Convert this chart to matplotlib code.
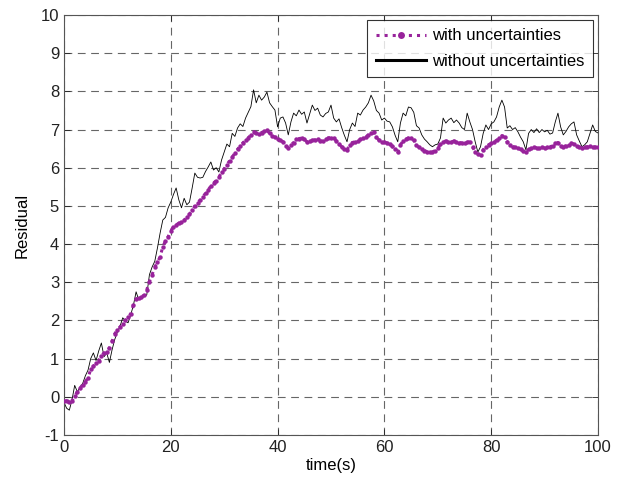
import matplotlib
matplotlib.use('Agg')
import matplotlib.pyplot as plt
import numpy as np

plt.rcParams['font.family'] = ['Liberation Sans', 'DejaVu Sans']
plt.rcParams['axes.unicode_minus'] = False

# time axis, 0.5 s steps
time_s = np.arange(0, 100.5, 0.5)

# residual with uncertainties (purple)
res_with = [
    -0.12, -0.10, -0.14, -0.10, 0.02, 0.13, 0.22, 0.32, 0.40, 0.50,
    0.72, 0.80, 0.88, 0.95, 1.08, 1.15, 1.18, 1.28, 1.45, 1.65,
    1.75, 1.83, 1.92, 2.00, 2.08, 2.18, 2.40, 2.56, 2.60, 2.62,
    2.66, 2.80, 3.02, 3.20, 3.40, 3.52, 3.67, 3.93, 4.08, 4.19,
    4.35, 4.45, 4.50, 4.55, 4.57, 4.62, 4.70, 4.78, 4.88, 5.00,
    5.08, 5.15, 5.24, 5.33, 5.42, 5.52, 5.60, 5.66, 5.75, 5.88,
    5.97, 6.08, 6.18, 6.28, 6.38, 6.48, 6.57, 6.65, 6.72, 6.78,
    6.86, 6.94, 6.92, 6.88, 6.92, 6.96, 6.98, 6.90, 6.84, 6.80,
    6.76, 6.72, 6.68, 6.58, 6.52, 6.60, 6.66, 6.74, 6.76, 6.78,
    6.74, 6.68, 6.70, 6.72, 6.73, 6.75, 6.70, 6.70, 6.74, 6.78,
    6.79, 6.77, 6.70, 6.62, 6.55, 6.50, 6.47, 6.60, 6.66, 6.68,
    6.70, 6.74, 6.77, 6.80, 6.86, 6.92, 6.93, 6.80, 6.72, 6.68,
    6.67, 6.65, 6.62, 6.56, 6.48, 6.42, 6.60, 6.70, 6.74, 6.78,
    6.79, 6.72, 6.60, 6.53, 6.48, 6.45, 6.42, 6.41, 6.41, 6.45,
    6.52, 6.62, 6.68, 6.70, 6.68, 6.67, 6.70, 6.68, 6.66, 6.65,
    6.65, 6.68, 6.67, 6.55, 6.42, 6.36, 6.33, 6.47, 6.55, 6.60,
    6.64, 6.67, 6.72, 6.77, 6.84, 6.80, 6.68, 6.60, 6.55, 6.53,
    6.52, 6.48, 6.44, 6.42, 6.48, 6.52, 6.53, 6.52, 6.52, 6.53,
    6.52, 6.54, 6.55, 6.57, 6.64, 6.66, 6.58, 6.55, 6.58, 6.60,
    6.64, 6.62, 6.56, 6.54, 6.52, 6.53, 6.55, 6.56, 6.55, 6.54,
    6.55,
]

# residual without uncertainties (black)
res_without = [
    -0.15, -0.30, -0.35, -0.08, 0.30, 0.13, 0.25, 0.35, 0.55, 0.70,
    1.00, 1.15, 0.95, 1.20, 1.41, 1.05, 1.15, 0.90, 1.23, 1.50,
    1.70, 1.85, 2.07, 1.98, 1.94, 2.15, 2.40, 2.75, 2.54, 2.60,
    2.62, 2.67, 3.20, 3.40, 3.55, 3.90, 4.29, 4.63, 4.70, 4.95,
    5.10, 5.30, 5.47, 5.16, 4.95, 5.20, 5.03, 5.10, 5.47, 5.86,
    5.75, 5.73, 5.75, 5.90, 6.02, 6.15, 5.94, 6.00, 5.89, 6.20,
    6.41, 6.62, 6.55, 6.90, 6.82, 7.04, 7.15, 7.08, 7.30, 7.45,
    7.60, 8.04, 7.70, 7.90, 7.77, 7.85, 7.98, 7.70, 7.60, 7.51,
    7.07, 7.30, 7.33, 7.17, 6.86, 7.20, 7.43, 7.36, 7.51, 7.40,
    7.46, 7.17, 7.40, 7.64, 7.50, 7.56, 7.38, 7.33, 7.42, 7.46,
    7.64, 7.30, 7.20, 7.28, 7.05, 6.85, 6.68, 7.00, 7.17, 7.08,
    7.43, 7.38, 7.51, 7.59, 7.70, 7.90, 7.75, 7.50, 7.43, 7.25,
    7.30, 7.22, 7.20, 7.07, 6.85, 6.68, 7.17, 7.43, 7.36, 7.59,
    7.57, 7.45, 7.10, 7.04, 6.86, 6.75, 6.68, 6.60, 6.55, 6.60,
    6.62, 6.78, 7.30, 7.17, 7.25, 7.30, 7.18, 7.25, 7.17, 7.05,
    7.00, 7.43, 7.20, 7.00, 6.68, 6.41, 6.55, 6.90, 7.12, 7.00,
    7.15, 7.20, 7.33, 7.59, 7.77, 7.59, 7.04, 7.10, 7.00, 7.05,
    6.94, 6.80, 6.68, 6.47, 6.90, 7.00, 6.92, 7.02, 6.92, 7.00,
    6.94, 6.98, 6.88, 6.91, 7.20, 7.43, 7.07, 6.86, 6.95, 7.07,
    7.15, 7.20, 6.86, 6.70, 6.55, 6.60, 6.68, 6.90, 7.12, 6.95,
    6.91,
]

x_ticks = [0, 20, 40, 60, 80, 100]
y_ticks = list(range(-1, 11))

fig = plt.figure(figsize=(6.18, 4.79), dpi=100, facecolor='white')
ax = fig.add_axes([64 / 618, 44 / 479, 534 / 618, 420 / 479])

purple = '#98239b'
ax.plot(time_s, res_with, color=purple, linestyle=':', linewidth=2.2,
        marker='o', markersize=3.2, markeredgewidth=0,
        label='with uncertainties', zorder=3)
ax.plot(time_s, res_without, color='black', linewidth=0.6,
        label='without uncertainties', zorder=2)

ax.set_xlim(0, 100)
ax.set_ylim(-1, 10)
ax.set_xticks(x_ticks)
ax.set_yticks(y_ticks)
ax.tick_params(direction='in', length=4, top=True, right=True,
               labelsize=12, colors='#222222', width=0.6)
ax.grid(True, color='#666666', linestyle=(0, (7, 5)), linewidth=0.8)
for s in ax.spines.values():
    s.set_color('#555555')
    s.set_linewidth(0.8)

ax.set_xlabel('time(s)', fontsize=12, labelpad=2)
ax.set_ylabel('Residual', fontsize=12, labelpad=8)

leg = ax.legend(loc='upper right', fontsize=12, frameon=True, fancybox=False,
                borderaxespad=0.3, handlelength=3.0, handletextpad=0.4,
                borderpad=0.5, labelspacing=0.62)
leg.get_frame().set_edgecolor('black')
leg.get_frame().set_linewidth(0.8)
leg_lines = leg.get_lines()
leg_lines[0].set_markersize(5)
leg_lines[1].set_linewidth(2.2)

fig.savefig('out.png', dpi=100, facecolor='white')
